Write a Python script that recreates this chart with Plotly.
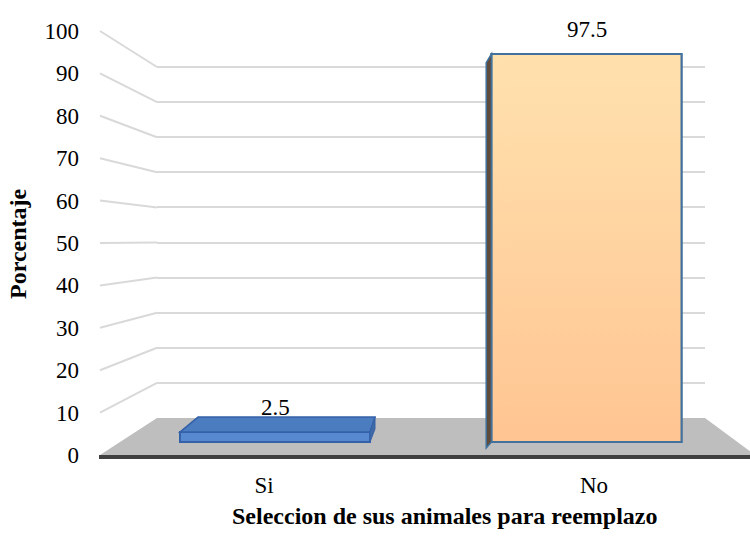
import plotly.graph_objects as go

# ---- data ----
categories = ["Si", "No"]
values = [2.5, 97.5]
y_ticks = [0, 10, 20, 30, 40, 50, 60, 70, 80, 90, 100]
y_title = "Porcentaje"
x_title = "Seleccion de sus animales para reemplazo"

W, H = 750, 539
FONT = "Liberation Serif, Times New Roman, serif"
FS = 23
FS_T = 24


def px(x):
    return x / W


def py(y):
    return 1 - y / H


# pseudo-3D geometry (pixel space)
FRONT_Y0, FRONT_K = 455, 4.24     # front plane: value -> pixel
BACK_Y0, BACK_K = 418, 3.51       # back wall
FRONT_X, BACK_X, BACK_XR = 100, 157, 705
BAR_Y0, BAR_K = 442, 3.98         # bar plane
BAR_C0, BAR_STEP = 275, 311.5     # bar centre of first category, spacing
BAR_W = 0.61
YMIN3 = -5
BACK_TOP = 101

fig = go.Figure()

# invisible traces so each subplot exists
fig.add_trace(go.Scatter(x=[0], y=[0], xaxis="x", yaxis="y", mode="markers",
                         marker=dict(opacity=0), showlegend=False, hoverinfo="skip"))
fig.add_trace(go.Scatter(x=[0], y=[0], xaxis="x2", yaxis="y2", mode="markers",
                         marker=dict(opacity=0), showlegend=False, hoverinfo="skip"))

bar_x = list(range(len(categories)))
fig.add_trace(go.Bar(
    x=bar_x, y=values, xaxis="x3", yaxis="y3", width=BAR_W,
    marker=dict(color=["#5689d0", "#fed4a2"],
                line=dict(color=["#3461a8", "#41719c"], width=2)),
    showlegend=False, hoverinfo="skip",
))

# gradient face for the tall bar, built from its value
hw = BAR_W / 2
i1 = 1
fig.add_trace(go.Scatter(
    x=[i1 - hw, i1 + hw, i1 + hw, i1 - hw, i1 - hw],
    y=[0, 0, values[i1], values[i1], 0],
    xaxis="x3", yaxis="y3", mode="lines", fill="toself",
    fillgradient=dict(type="vertical",
                      colorscale=[[0, "#ffc592"], [1, "#ffe1ae"]]),
    line=dict(color="#41719c", width=2),
    showlegend=False, hoverinfo="skip",
))

xr3_min = -(BAR_C0 - FRONT_X) / BAR_STEP
xr3_max = xr3_min + (W - FRONT_X) / BAR_STEP
cat_c0, cat_step = 264, 330
xr2_min = -(cat_c0 - 99) / cat_step
xr2_max = xr2_min + (W - 99) / cat_step

layout = dict(
    width=W, height=H,
    margin=dict(l=0, r=0, t=0, b=0, pad=0, autoexpand=False),
    paper_bgcolor="white", plot_bgcolor="rgba(0,0,0,0)",
    font=dict(family=FONT, size=FS, color="black"),
    xaxis=dict(domain=[px(BACK_X), px(BACK_XR)], range=[0, 1], automargin=False,
               showgrid=False, zeroline=False, showticklabels=False, showline=False,
               anchor="y"),
    yaxis=dict(domain=[py(BACK_Y0), py(BACK_Y0 - BACK_TOP * BACK_K)], range=[0, BACK_TOP],
               automargin=False,
               tickvals=y_ticks[1:], showgrid=True, gridcolor="#d9d9d9", gridwidth=2,
               zeroline=False, showticklabels=False, showline=False, anchor="x"),
    xaxis2=dict(domain=[px(99), 1], range=[xr2_min, xr2_max], automargin=False,
                tickvals=bar_x, ticktext=categories, showgrid=False, zeroline=False,
                showline=True, linecolor="#404040", linewidth=4, ticks="",
                ticklabelstandoff=6, tickfont=dict(size=FS, family=FONT), anchor="y2"),
    yaxis2=dict(domain=[py(FRONT_Y0), py(FRONT_Y0 - 100 * FRONT_K)], range=[0, 100],
                automargin=False,
                tickvals=y_ticks, showgrid=False, zeroline=False, showline=False,
                ticks="", ticklabelstandoff=19, tickfont=dict(size=FS, family=FONT),
                anchor="x2"),
    xaxis3=dict(domain=[px(FRONT_X), 1], range=[xr3_min, xr3_max], visible=False,
                automargin=False, anchor="y3"),
    yaxis3=dict(domain=[py(BAR_Y0 - YMIN3 * BAR_K), py(BAR_Y0 - 100 * BAR_K)],
                range=[YMIN3, 100], visible=False, automargin=False, anchor="x3"),
    showlegend=False,
)
fig.update_layout(**layout)

shapes = []
# floor
floor_path = (f"M {px(FRONT_X)},{py(FRONT_Y0)} L {px(BACK_X)},{py(BACK_Y0)} "
              f"L {px(BACK_XR)},{py(BACK_Y0)} L {px(755)},{py(FRONT_Y0)} Z")
shapes.append(dict(type="path", path=floor_path, xref="paper", yref="paper",
                   fillcolor="#bebebe", line=dict(width=0), layer="below"))
# left wall gridlines
for v in y_ticks[1:]:
    shapes.append(dict(type="line", xref="paper", yref="paper",
                       x0=px(FRONT_X), y0=py(FRONT_Y0 - v * FRONT_K),
                       x1=px(BACK_X), y1=py(BACK_Y0 - v * BACK_K),
                       line=dict(color="#d9d9d9", width=2), layer="below"))

# 3D faces of bars (in bar axes units)
depth_v = 15 / BAR_K
v0 = values[0]
shapes.append(dict(type="path", xref="x3", yref="y3",
                   path=(f"M {0 - hw},{v0} L {0 + hw},{v0} L {0 + hw + 0.016},{v0 + depth_v} "
                         f"L {0 - hw + 0.058},{v0 + depth_v} Z"),
                   fillcolor="#4b7cc0", line=dict(color="#3461a8", width=1.5)))
shapes.append(dict(type="path", xref="x3", yref="y3",
                   path=(f"M {0 + hw},{0} L {0 + hw},{v0} L {0 + hw + 0.016},{v0 + depth_v} "
                         f"L {0 + hw + 0.016},{v0 + depth_v - 3} Z"),
                   fillcolor="#3f6aa6", line=dict(color="#3461a8", width=1)))
v1 = values[1]
shapes.append(dict(type="path", xref="x3", yref="y3",
                   path=(f"M {1 - hw},{v1} L {1 - hw - 0.017},{v1 - 2.2} "
                         f"L {1 - hw - 0.017},{-1.5} L {1 - hw},{0} Z"),
                   fillcolor="#5e4b3c", line=dict(color="#41719c", width=1.5)))
fig.update_layout(shapes=shapes)

annotations = []
for i, v in enumerate(values):
    annotations.append(dict(x=i, y=v, xref="x3", yref="y3", text=f"{v}",
                            showarrow=False, xanchor="center", yanchor="middle",
                            yshift=25 if i == 0 else 24,
                            font=dict(size=FS, family=FONT, color="black")))
annotations.append(dict(x=px(18), y=py(244), xref="paper", yref="paper",
                        text=f"<b>{y_title}</b>", textangle=-90, showarrow=False,
                        xanchor="center", yanchor="middle",
                        font=dict(size=FS_T, family=FONT, color="black")))
annotations.append(dict(x=px(445), y=py(516), xref="paper", yref="paper",
                        text=f"<b>{x_title}</b>", showarrow=False,
                        xanchor="center", yanchor="middle",
                        font=dict(size=FS_T, family=FONT, color="black")))
fig.update_layout(annotations=annotations)

fig.write_html("out.html", config={"displayModeBar": False},
               post_script="document.body.style.margin='0';document.body.style.overflow='hidden';")
